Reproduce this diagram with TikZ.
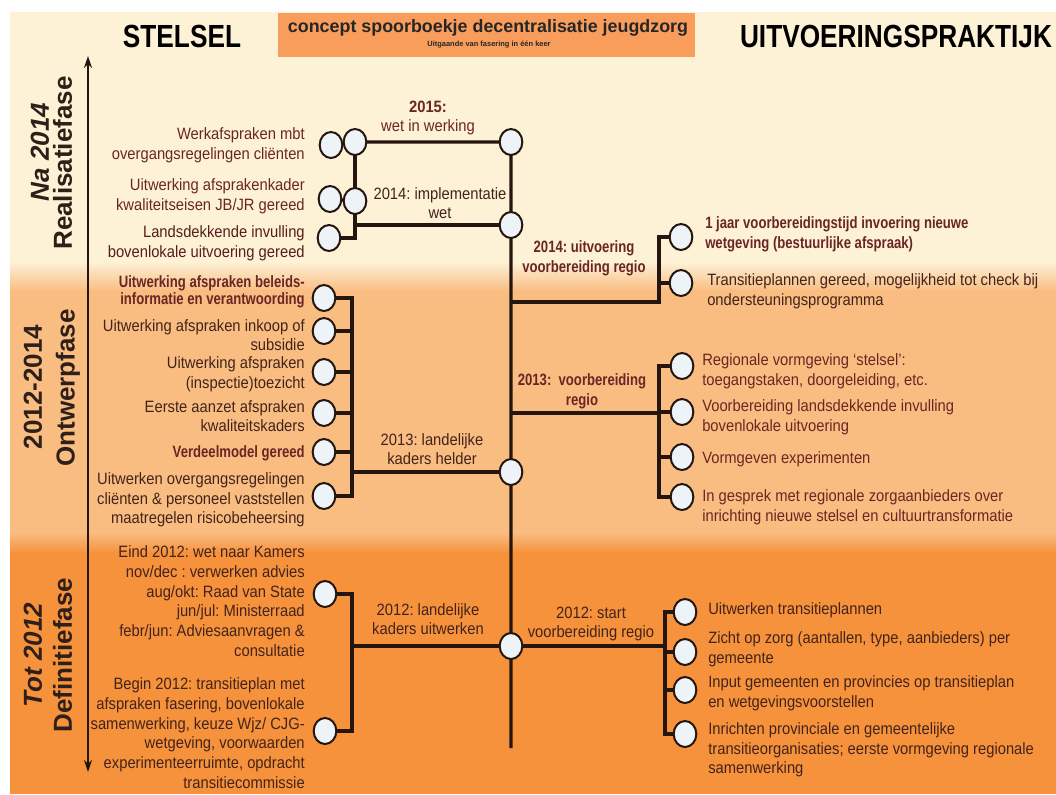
\documentclass[tikz,border=0pt]{standalone}
\usepackage{fontspec}
\setmainfont{Liberation Sans}[FakeStretch=0.9]
\newfontfamily\strongfont{Liberation Sans}[FakeStretch=0.8]
\newfontfamily\headfont{Liberation Sans}[FakeStretch=0.82]
\newfontfamily\phasefont{Liberation Sans}
\usetikzlibrary{shapes.geometric,arrows.meta}
\pgfdeclarelayer{back}
\pgfdeclarelayer{lines}
\pgfsetlayers{back,lines,main}
\frenchspacing
\definecolor{topband}{HTML}{FDF1D6}
\definecolor{midband}{HTML}{F9BD82}
\definecolor{botband}{HTML}{F6923C}
\definecolor{headbox}{HTML}{F89D5C}
\definecolor{mymaroon}{HTML}{6A2624}
\definecolor{txtbrown}{HTML}{42231A}
\definecolor{linecol}{HTML}{24160F}
\definecolor{dotfill}{HTML}{EEF3F8}
\definecolor{phasecol}{HTML}{2E2019}
\newcommand\mybody{\fontsize{12.3}{14.8}\selectfont}
\newcommand\mystrong{\strongfont\bfseries\fontsize{12.3}{14.8}\selectfont}
\tikzset{
  dot/.style={ellipse, draw=linecol, line width=1.5pt, fill=dotfill,
    minimum width=17pt, minimum height=19.5pt, inner sep=0pt},
  link/.style={draw=linecol, line width=2.3pt},
  lefttxt/.style={anchor=east, align=right, inner sep=0pt, text=txtbrown, font=\mybody},
  righttxt/.style={anchor=west, align=left, inner sep=0pt, text=txtbrown, font=\mybody},
  midlbl/.style={align=center, inner sep=0pt, text=txtbrown, font=\mybody},
  phaselbl/.style={rotate=90, inner sep=0pt, text=phasecol,
    font=\phasefont\bfseries\fontsize{19.5}{22}\selectfont},
  phaseit/.style={phaselbl, font=\phasefont\bfseries\itshape\fontsize{19.5}{22}\selectfont},
  headtxt/.style={inner sep=0pt, text=black, font=\headfont\bfseries\fontsize{24}{26}\selectfont}
}
\begin{document}
\begin{tikzpicture}[x=0.75pt,y=-0.75pt]
\useasboundingbox (0,0) rectangle (1056,794);

% ---------- header ----------
\node[fill=headbox, minimum width=312.75pt, minimum height=33pt, inner sep=0pt] (titlebox) at (486.5,35) {};
\node[inner sep=0pt, text=black!85, font=\phasefont\bfseries\fontsize{13.4}{15}\selectfont] (title) at (488,28) {concept spoorboekje decentralisatie jeugdzorg};
\node[inner sep=0pt, text=black!85, font=\phasefont\bfseries\fontsize{5.6}{6.5}\selectfont] (subtitle) at (489,45) {Uitgaande van fasering in één keer};
\node[headtxt] (stelsel) at (182,36) {STELSEL};
\node[headtxt] (uitvoering) at (896,36) {UITVOERINGSPRAKTIJK};

% ---------- phases ----------
\node[phaseit] (na2014) at (40,152) {Na 2014};
\node[phaselbl] (realisatie) at (62.5,163) {Realisatiefase};
\node[phaselbl] (p1214) at (33,387) {2012-2014};
\node[phaselbl] (ontwerp) at (68,388) {Ontwerpfase};
\node[phaseit] (tot2012) at (33,655) {Tot 2012};
\node[phaselbl] (definitie) at (62.5,655) {Definitiefase};
\coordinate (atop) at (88,56);
\coordinate (abot) at (88,772);

% ---------- circles ----------
\node[dot] (a1) at (331,145) {};
\node[dot] (a2) at (355,142) {};
\node[dot] (b1) at (330,199) {};
\node[dot] (b2) at (355,201) {};
\node[dot] (c1) at (329,238) {};
\node[dot] (t2015) at (511,142) {};
\node[dot] (t2014) at (511,225) {};
\node[dot] (s2013) at (511,472) {};
\node[dot] (s2012) at (511,646) {};
\coordinate (spineend) at (511,748);
\coordinate (j2014) at (511,302);
\coordinate (j2013) at (511,413);
\coordinate (xL) at (352,0);
\coordinate (xR) at (659,0);
\coordinate (xRb) at (665,0);

\node[dot] (m1) at (324,298) {};
\node[dot] (m2) at (324,331) {};
\node[dot] (m3) at (324,372) {};
\node[dot] (m4) at (324,413) {};
\node[dot] (m5) at (324,452) {};
\node[dot] (m6) at (324,496) {};
\node[dot] (n1) at (325,594) {};
\node[dot] (n2) at (325,731) {};

\node[dot] (r1) at (681,237) {};
\node[dot] (r2) at (681,283) {};
\node[dot] (r3) at (682,366) {};
\node[dot] (r4) at (682,412) {};
\node[dot] (r5) at (682,457) {};
\node[dot] (r6) at (682,497) {};
\node[dot] (q1) at (685,612) {};
\node[dot] (q2) at (685,652) {};
\node[dot] (q3) at (685,690) {};
\node[dot] (q4) at (685,734) {};

% ---------- left texts ----------
\node[lefttxt, text=mymaroon] (l1) at (305,145) {Werkafspraken mbt\\overgangsregelingen cliënten};
\node[lefttxt, text=mymaroon] (l2) at (305,196) {Uitwerking afsprakenkader\\kwaliteitseisen JB/JR gereed};
\node[lefttxt, text=mymaroon!80!black] (l3) at (305,243) {Landsdekkende invulling\\bovenlokale uitvoering gereed};
\node[lefttxt, text=mymaroon, font=\strongfont\bfseries\fontsize{12.3}{12.5}\selectfont] (lm1) at (305,292) {Uitwerking afspraken beleids-\\informatie en verantwoording};
\node[lefttxt] (lm2) at (305,335) {Uitwerking afspraken inkoop of\\subsidie};
\node[lefttxt] (lm3) at (305,374) {Uitwerking afspraken\\(inspectie)toezicht};
\node[lefttxt] (lm4) at (305,416) {Eerste aanzet afspraken\\kwaliteitskaders};
\node[lefttxt, text=mymaroon, font=\mystrong] (lm5) at (305,453) {Verdeelmodel gereed};
\node[lefttxt] (lm6) at (305,500) {Uitwerken overgangsregelingen\\cliënten \& personeel vaststellen\\maatregelen risicobeheersing};
\node[lefttxt] (ln1) at (305,601) {Eind 2012: wet naar Kamers\\nov/dec : verwerken advies\\aug/okt: Raad van State\\jun/jul: Ministerraad\\febr/jun: Adviesaanvragen \&\\consultatie};
\node[lefttxt] (ln2) at (305,733) {Begin 2012: transitieplan met\\afspraken fasering, bovenlokale\\samenwerking, keuze Wjz/ CJG-\\wetgeving, voorwaarden\\experimenteerruimte, opdracht\\transitiecommissie};

% ---------- centre labels ----------
\node[midlbl, text=mymaroon] (lab2015) at (428,118) {\textbf{2015:}\\wet in werking};
\node[midlbl] (lab2014a) at (440,203) {2014: implementatie\\wet};
\node[midlbl, text=mymaroon, font=\mystrong] (lab2014b) at (584,258) {2014: uitvoering\\voorbereiding regio};
\node[midlbl, text=mymaroon, font=\mystrong] (lab2013b) at (582,391) {2013:\ \ voorbereiding\\regio};
\node[midlbl] (lab2013a) at (432,449) {2013: landelijke\\kaders helder};
\node[midlbl] (lab2012a) at (428,619) {2012: landelijke\\kaders uitwerken};
\node[midlbl] (lab2012b) at (591,624) {2012: start\\voorbereiding regio};

% ---------- right texts ----------
\node[righttxt, text=mymaroon, font=\mystrong] (rt1) at (705,234) {1 jaar voorbereidingstijd invoering nieuwe\\wetgeving (bestuurlijke afspraak)};
\node[righttxt] (rt2) at (707,291) {Transitieplannen gereed, mogelijkheid tot check bij\\ondersteuningsprogramma};
\node[righttxt, text=mymaroon] (rt3) at (702,371) {Regionale vormgeving `stelsel':\\toegangstaken, doorgeleiding, etc.};
\node[righttxt, text=mymaroon] (rt4) at (702,417) {Voorbereiding landsdekkende invulling\\bovenlokale uitvoering};
\node[righttxt, text=mymaroon] (rt5) at (702,459) {Vormgeven experimenten};
\node[righttxt, text=mymaroon] (rt6) at (702,507) {In gesprek met regionale zorgaanbieders over\\inrichting nieuwe stelsel en cultuurtransformatie};
\node[righttxt] (rq1) at (708,610) {Uitwerken transitieplannen};
\node[righttxt] (rq2) at (708,649) {Zicht op zorg (aantallen, type, aanbieders) per\\gemeente};
\node[righttxt] (rq3) at (708,693) {Input gemeenten en provincies op transitieplan\\en wetgevingsvoorstellen};
\node[righttxt] (rq4) at (708,750) {Inrichten provinciale en gemeentelijke\\transitieorganisaties; eerste vormgeving regionale\\samenwerking};

% ---------- background ----------
\begin{pgfonlayer}{back}
\fill[white] (0,0) rectangle (1056,794);
\fill[topband] (10,12) rectangle (1056,263);
\shade[top color=topband,bottom color=midband] (10,262) rectangle (1056,291);
\fill[midband] (10,290) rectangle (1056,533);
\shade[top color=midband,bottom color=botband] (10,532) rectangle (1056,553);
\fill[botband] (10,552) rectangle (1056,794);
\end{pgfonlayer}

% ---------- connectors ----------
\begin{pgfonlayer}{lines}
\draw[line width=1.6pt, linecol, {Stealth[length=9pt,width=6pt]}-{Stealth[length=9pt,width=6pt]}] (atop) -- (abot);
% spine and top block
\draw[link] (a1.center) -- (a2.center) -- (t2015.center) -- (t2014.center) -- (s2013.center) -- (s2012.center) -- (spineend);
\draw[link] (a2.center) -- (b2.center) -- (b2.center |- c1.center) -- (c1.center);
\draw[link] (b1.center) -- (b2.center);
\draw[link] (b2.center |- t2014.center) -- (t2014.center);
% middle left
\draw[link] (m1.center) -- (m1 -| xL) -- (m6 -| xL) -- (m6.center);
\foreach \m in {m2,m3,m4,m5} \draw[link] (\m.center) -- (\m -| xL);
\draw[link] (xL |- s2013) -- (s2013.center);
% bottom left
\draw[link] (n1.center) -- (n1 -| xL) -- (n2 -| xL) -- (n2.center);
\draw[link] (xL |- s2012) -- (s2012.center);
% right 2014
\draw[link] (j2014) -- (j2014 -| xR) -- (r1 -| xR) -- (r1.center);
\draw[link] (r2.center) -- (r2 -| xR);
% right 2013
\draw[link] (j2013) -- (j2013 -| xR);
\draw[link] (r3.center) -- (r3 -| xR) -- (r6 -| xR) -- (r6.center);
\foreach \r in {r4,r5} \draw[link] (\r.center) -- (\r -| xR);
% right 2012
\draw[link] (s2012.center) -- (s2012 -| xRb);
\draw[link] (q1.center) -- (q1 -| xRb) -- (q4 -| xRb) -- (q4.center);
\foreach \q in {q2,q3} \draw[link] (\q.center) -- (\q -| xRb);
\end{pgfonlayer}
\end{tikzpicture}
\end{document}
